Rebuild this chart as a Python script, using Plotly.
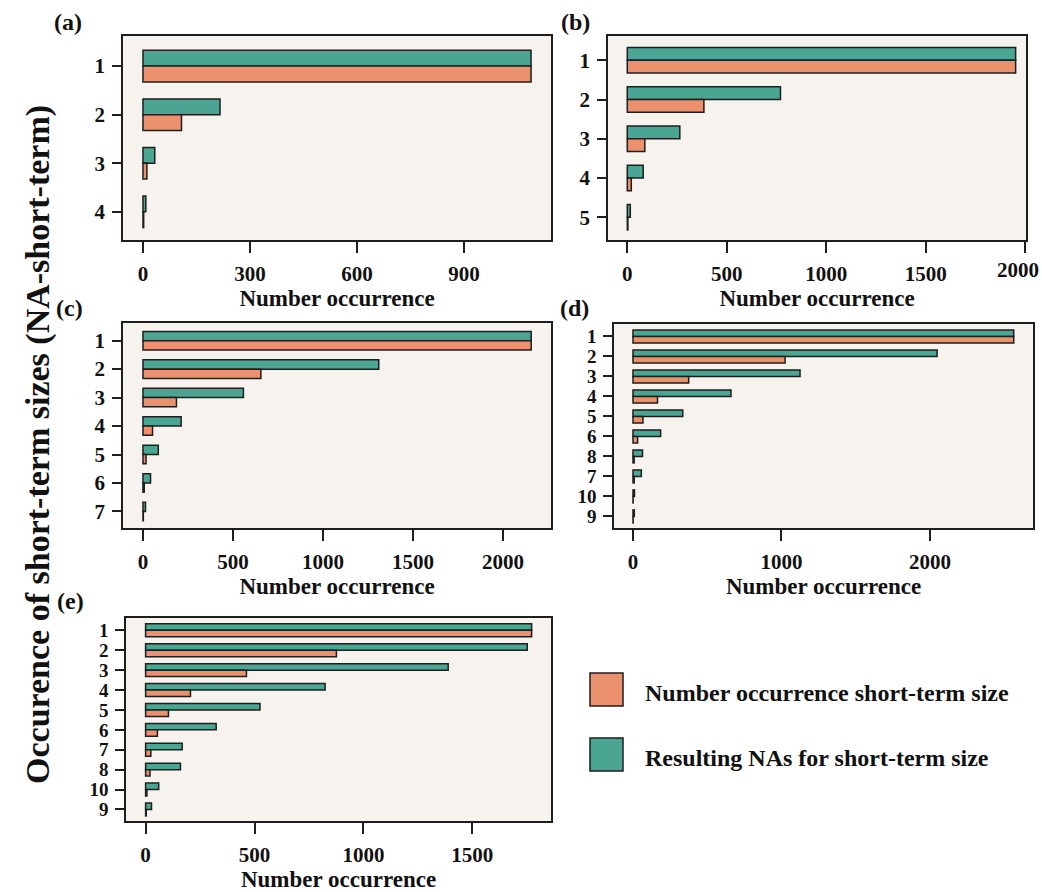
import plotly.graph_objects as go

W, H = 1042, 892

GREEN = "#4AA693"
ORANGE = "#EB916E"
PANEL_BG = "#F6F3EF"
INK = "#1E1E1E"
FONT = "Liberation Serif"

# ---- data: counts per short-term size (occurrences and resulting NAs) ----
a_sizes = ["1", "2", "3", "4"]
a_occurrence = [1088, 108, 11, 2]
a_resulting_na = [1088, 216, 33, 8]

b_sizes = ["1", "2", "3", "4", "5"]
b_occurrence = [1952, 385, 88, 20, 3]
b_resulting_na = [1952, 770, 264, 80, 15]

c_sizes = ["1", "2", "3", "4", "5", "6", "7"]
c_occurrence = [2157, 655, 186, 53, 17, 7, 2]
c_resulting_na = [2157, 1310, 558, 212, 85, 42, 14]

d_sizes = ["1", "2", "3", "4", "5", "6", "8", "7", "10", "9"]
d_occurrence = [2564, 1024, 375, 165, 67, 31, 8, 8, 1, 1]
d_resulting_na = [2564, 2048, 1125, 660, 335, 186, 64, 56, 10, 9]

e_sizes = ["1", "2", "3", "4", "5", "6", "7", "8", "10", "9"]
e_occurrence = [1772, 876, 463, 206, 105, 54, 24, 20, 6, 3]
e_resulting_na = [1772, 1752, 1389, 824, 525, 324, 168, 160, 60, 27]

a_ticks = [0, 300, 600, 900]
b_ticks = [0, 500, 1000, 1500, 2000]
c_ticks = [0, 500, 1000, 1500, 2000]
d_ticks = [0, 1000, 2000]
e_ticks = [0, 500, 1000, 1500]

LEGEND_OCC = "Number occurrence short-term size"
LEGEND_NA = "Resulting NAs for short-term size"
X_TITLE = "Number occurrence"
Y_TITLE = "Occurence of short-term sizes (NA-short-term)"

# ---- panel layout (pixel boxes: left, right, top, bottom) ----
# edge_label: the last tick label of panel (b) sits against the page edge,
# so it is written as a separate text tied to that tick
panels = [
    dict(tag="(a)", cats=a_sizes, occ=a_occurrence, na=a_resulting_na,
         box=(123, 551, 36, 240), xr=(-56, 1144), ticks=a_ticks,
         tagpos=(52, 22), yfont=21, edge_label=False),
    dict(tag="(b)", cats=b_sizes, occ=b_occurrence, na=b_resulting_na,
         box=(608, 1026, 36, 240), xr=(-97, 2004), ticks=b_ticks,
         tagpos=(559, 22), yfont=21, edge_label=True),
    dict(tag="(c)", cats=c_sizes, occ=c_occurrence, na=c_resulting_na,
         box=(123, 551, 323, 528), xr=(-111, 2267), ticks=c_ticks,
         tagpos=(54, 308), yfont=21, edge_label=False),
    dict(tag="(d)", cats=d_sizes, occ=d_occurrence, na=d_resulting_na,
         box=(614, 1033, 324, 528), xr=(-128, 2694), ticks=d_ticks,
         tagpos=(558, 308), yfont=19, edge_label=False),
    dict(tag="(e)", cats=e_sizes, occ=e_occurrence, na=e_resulting_na,
         box=(126, 551, 618, 821), xr=(-90, 1861), ticks=e_ticks,
         tagpos=(55, 601), yfont=19, edge_label=False),
]


def px_x(v):
    return v / W


def px_y(v):
    return 1 - v / H


fig = go.Figure()
layout = {}
annotations = []

for i, p in enumerate(panels, start=1):
    xa = "x" if i == 1 else f"x{i}"
    ya = "y" if i == 1 else f"y{i}"
    # resulting NAs first so it sits on top of each pair (reversed y axis)
    fig.add_trace(go.Bar(
        y=p["cats"], x=p["na"], orientation="h", name=LEGEND_NA,
        marker=dict(color=GREEN, line=dict(color=INK, width=1.5)),
        xaxis=xa, yaxis=ya, showlegend=False,
    ))
    fig.add_trace(go.Bar(
        y=p["cats"], x=p["occ"], orientation="h", name=LEGEND_OCC,
        marker=dict(color=ORANGE, line=dict(color=INK, width=1.5)),
        xaxis=xa, yaxis=ya, showlegend=False,
    ))
    l, r, t, b = p["box"]
    n = len(p["cats"])
    ticktext = [str(v) for v in p["ticks"]]
    if p["edge_label"]:
        ticktext[-1] = ""
        annotations.append(dict(
            text=str(p["ticks"][-1]), x=p["ticks"][-1], xref=xa,
            y=px_y(b + 16), yref="paper", xshift=-7,
            xanchor="center", yanchor="top", showarrow=False,
            font=dict(size=21),
        ))
    layout["xaxis" if i == 1 else f"xaxis{i}"] = dict(
        domain=[px_x(l), px_x(r)], anchor=ya, range=list(p["xr"]),
        tickmode="array", tickvals=p["ticks"], ticktext=ticktext,
        ticks="outside", ticklen=11,
        tickwidth=1.5, tickcolor=INK, showline=True, mirror=True,
        linecolor=INK, linewidth=1.5, showgrid=False, zeroline=False,
        tickfont=dict(size=21), ticklabelstandoff=3,
        title=dict(text=X_TITLE, font=dict(size=23), standoff=3),
    )
    layout["yaxis" if i == 1 else f"yaxis{i}"] = dict(
        domain=[px_y(b), px_y(t)], anchor=xa, type="category",
        categoryorder="array", categoryarray=p["cats"],
        tickmode="array", tickvals=p["cats"], ticktext=p["cats"],
        range=[n - 0.42, -0.62], ticks="outside", ticklen=9, tickwidth=1.5,
        tickcolor=INK, showline=True, mirror=True, linecolor=INK,
        linewidth=1.5, showgrid=False, zeroline=False,
        tickfont=dict(size=p["yfont"]), ticklabelstandoff=3,
    )
    tx, ty = p["tagpos"]
    annotations.append(dict(
        text=p["tag"], x=px_x(tx), y=px_y(ty), xref="paper", yref="paper",
        xanchor="left", yanchor="middle", showarrow=False, font=dict(size=24),
    ))

# shared y title
annotations.append(dict(
    text=Y_TITLE, x=px_x(38), y=px_y(445), xref="paper", yref="paper",
    textangle=-90, xanchor="center", yanchor="middle", showarrow=False,
    font=dict(size=34),
))

# legend drawn as swatches and labels
shapes = []
legend_rows = [(ORANGE, LEGEND_OCC, 673, 706), (GREEN, LEGEND_NA, 738, 771)]
for color, label, top, bottom in legend_rows:
    shapes.append(dict(
        type="rect", xref="paper", yref="paper",
        x0=px_x(590), x1=px_x(623), y0=px_y(bottom), y1=px_y(top),
        fillcolor=color, line=dict(color=INK, width=1.5),
    ))
    annotations.append(dict(
        text=label, x=px_x(643), y=px_y((top + bottom) / 2 + 3),
        xref="paper", yref="paper", xanchor="left", yanchor="middle",
        showarrow=False, font=dict(size=24),
    ))

fig.update_layout(
    width=W, height=H, margin=dict(l=0, r=0, t=0, b=0),
    paper_bgcolor="white", plot_bgcolor=PANEL_BG,
    barmode="group", bargap=0.35, bargroupgap=0.0,
    font=dict(family=FONT, color="#111111", weight="bold"),
    annotations=annotations, shapes=shapes,
    **layout,
)

fig.write_html("out.html")
